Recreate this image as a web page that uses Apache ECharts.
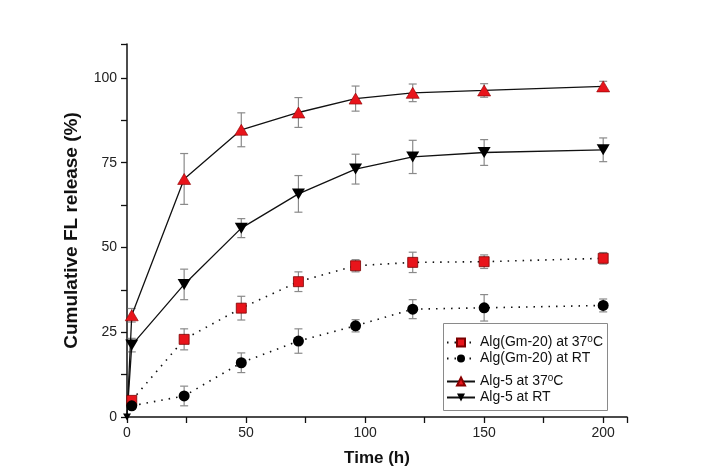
<!DOCTYPE html>
<html>
<head>
<meta charset="utf-8">
<script src="https://cdn.jsdelivr.net/npm/echarts@6/dist/echarts.min.js"></script>
<style>
  html, body { margin: 0; padding: 0; background: #fff; }
  #chart { width: 725px; height: 474px; }
</style>
</head>
<body>
<div id="chart"></div>
<script>
// time points (h)
const timeAlg5 = [0, 2, 24, 48, 72, 96, 120, 150, 200];
const timeGm = [2, 24, 48, 72, 96, 120, 150, 200];

// cumulative release (%) and error (+/-)
const gm37 = [4.9, 22.9, 32.1, 39.9, 44.6, 45.6, 45.8, 46.8];
const gm37Err = [0.8, 3.1, 3.5, 2.9, 1.8, 3.0, 2.0, 1.7];
const gmRT = [3.3, 6.2, 16.0, 22.4, 26.9, 31.8, 32.2, 32.9];
const gmRTErr = [0.8, 2.9, 2.9, 3.6, 1.8, 2.8, 3.9, 1.9];
const alg37 = [0, 30.0, 70.2, 84.7, 89.8, 93.9, 95.6, 96.3, 97.5];
const alg37Err = [0, 2.0, 7.5, 5.0, 4.4, 3.7, 2.6, 2.0, 1.5];
const algRT = [0, 21.2, 39.1, 55.7, 65.8, 73.1, 76.7, 78.0, 78.8];
const algRTErr = [0, 2.0, 4.5, 2.8, 5.4, 4.4, 4.9, 3.8, 3.5];

const seriesNames = ['Alg(Gm-20) at 37°C', 'Alg(Gm-20) at RT', 'Alg-5 at 37°C', 'Alg-5 at RT'];

function pairs(xs, ys) {
  return xs.map((x, i) => [x, ys[i]]);
}

function errRows(xs, ys, errs) {
  return xs.map((x, i) => [x, ys[i] - errs[i], ys[i] + errs[i]]).filter((r) => r[2] > r[1]);
}

function errorBars(name, rows) {
  return {
    type: 'custom',
    name: name + ' err',
    z: 1,
    silent: true,
    data: rows,
    renderItem: (params, api) => {
      const lo = api.coord([api.value(0), api.value(1)]);
      const hi = api.coord([api.value(0), api.value(2)]);
      const cap = 4;
      const style = { stroke: '#8a8a8a', lineWidth: 1.2 };
      return {
        type: 'group',
        children: [
          { type: 'line', shape: { x1: lo[0], y1: lo[1], x2: hi[0], y2: hi[1] }, style },
          { type: 'line', shape: { x1: lo[0] - cap, y1: lo[1], x2: lo[0] + cap, y2: lo[1] }, style },
          { type: 'line', shape: { x1: hi[0] - cap, y1: hi[1], x2: hi[0] + cap, y2: hi[1] }, style },
        ],
      };
    },
  };
}

const font = '"Liberation Sans", Arial, sans-serif';
const legendText = {
  fontFamily: font,
  fontSize: 14,
  color: '#111',
  rich: {
    sup: { fontSize: 10, verticalAlign: 'top', padding: [0, 0, 7, 0], fontFamily: font, color: '#111' },
  },
};
const legendCommon = {
  orient: 'vertical',
  left: 446,
  padding: 0,
  itemGap: 2,
  itemWidth: 28,
  itemHeight: 10,
  formatter: (name) => name.replace('37°C', '37{sup|o}C'),
  textStyle: legendText,
};

const chart = echarts.init(document.getElementById('chart'), null, { renderer: 'canvas' });

chart.setOption({
  animation: false,
  textStyle: { fontFamily: font },
  grid: { left: 127, right: 98, top: 44, bottom: 57 },
  graphic: [{
    type: 'rect',
    left: 443,
    top: 323,
    shape: { width: 164, height: 87 },
    style: { fill: '#fff', stroke: '#8a8a8a', lineWidth: 1 },
    z: 5,
  }],
  legend: [
    Object.assign({ data: seriesNames.slice(0, 2), top: 334, z: 10 }, legendCommon),
    Object.assign({ data: seriesNames.slice(2), top: 373, z: 10 }, legendCommon),
  ],
  xAxis: {
    type: 'value',
    min: 0,
    max: 210,
    interval: 50,
    name: 'Time (h)',
    nameLocation: 'middle',
    nameGap: 33,
    nameTextStyle: { fontFamily: font, fontSize: 17, fontWeight: 'bold', color: '#111' },
    axisLine: { lineStyle: { color: '#111', width: 1.5 } },
    axisTick: { show: true, length: 6, lineStyle: { color: '#111', width: 1.3 } },
    minorTick: { show: true, splitNumber: 2, length: 6, lineStyle: { color: '#111', width: 1.3 } },
    axisLabel: {
      fontFamily: font, fontSize: 14, color: '#222', margin: 9,
      formatter: (v) => (v % 50 === 0 && v <= 200 ? String(v) : ''),
    },
    splitLine: { show: false },
  },
  yAxis: {
    type: 'value',
    min: 0,
    max: 110,
    interval: 25,
    name: 'Cumulative FL release (%)',
    nameLocation: 'middle',
    nameGap: 46,
    nameTextStyle: { fontFamily: font, fontSize: 19, fontWeight: 'bold', color: '#111' },
    axisLine: { show: true, lineStyle: { color: '#111', width: 1.5 } },
    axisTick: { show: true, length: 6, lineStyle: { color: '#111', width: 1.3 } },
    minorTick: { show: true, splitNumber: 2, length: 6, lineStyle: { color: '#111', width: 1.3 } },
    axisLabel: {
      fontFamily: font, fontSize: 14, color: '#222', margin: 10,
      formatter: (v) => (v % 25 === 0 && v <= 100 ? String(v) : ''),
    },
    splitLine: { show: false },
  },
  series: [
    errorBars(seriesNames[0], errRows(timeGm, gm37, gm37Err)),
    errorBars(seriesNames[1], errRows(timeGm, gmRT, gmRTErr)),
    errorBars(seriesNames[2], errRows(timeAlg5, alg37, alg37Err)),
    errorBars(seriesNames[3], errRows(timeAlg5, algRT, algRTErr)),
    {
      name: seriesNames[0],
      type: 'line',
      z: 3,
      data: pairs(timeGm, gm37),
      symbol: 'rect',
      symbolSize: 10,
      itemStyle: { color: '#e8141b', borderColor: '#7a0000', borderWidth: 0.8 },
      lineStyle: { color: '#111', width: 1.6, type: [1.5, 6] },
    },
    {
      name: seriesNames[1],
      type: 'line',
      z: 3,
      data: pairs(timeGm, gmRT),
      symbol: 'circle',
      symbolSize: 11,
      itemStyle: { color: '#000', borderColor: '#000', borderWidth: 0 },
      lineStyle: { color: '#111', width: 1.6, type: [1.5, 6] },
    },
    {
      name: seriesNames[2],
      type: 'line',
      z: 3,
      data: pairs(timeAlg5, alg37),
      symbol: 'triangle',
      symbolSize: (v) => (v[0] === 0 ? 0 : [13, 11]),
      itemStyle: { color: '#e8141b', borderColor: '#8a0000', borderWidth: 0.6 },
      lineStyle: { color: '#111', width: 1.3 },
    },
    {
      name: seriesNames[3],
      type: 'line',
      z: 3,
      data: pairs(timeAlg5, algRT),
      symbol: 'triangle',
      symbolRotate: 180,
      symbolSize: (v) => (v[0] === 0 ? [8, 7] : [13, 11]),
      itemStyle: { color: '#000', borderColor: '#000', borderWidth: 0 },
      lineStyle: { color: '#111', width: 1.3 },
    },
  ],
});
</script>
</body>
</html>
